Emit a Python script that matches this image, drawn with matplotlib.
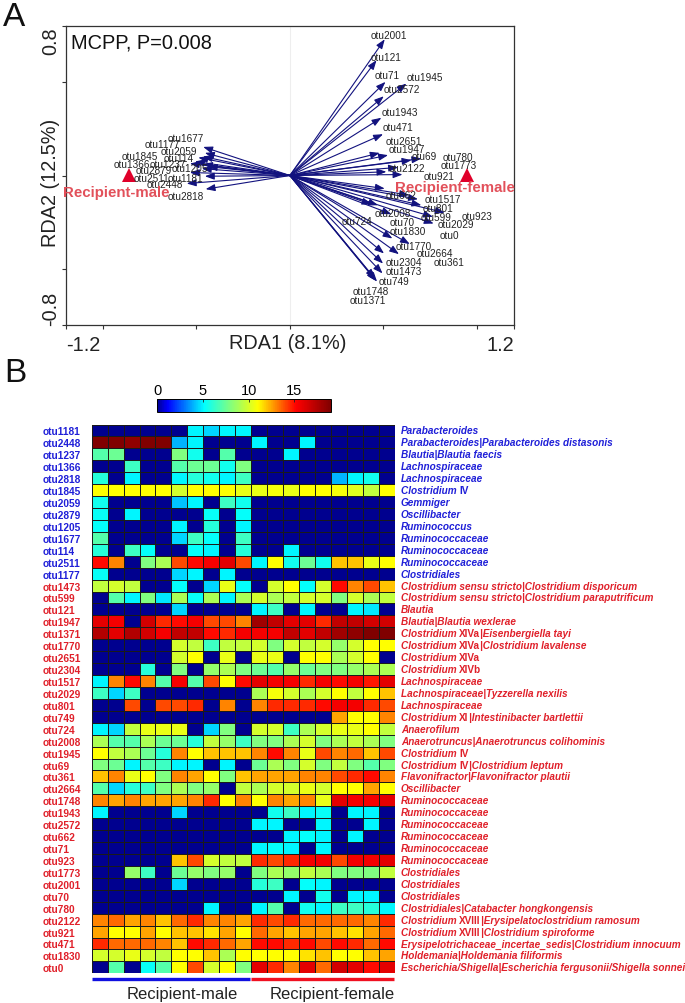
import re
import numpy as np
import matplotlib
matplotlib.use('Agg')
import matplotlib.pyplot as plt
from matplotlib.colors import LinearSegmentedColormap

plt.rcParams['font.family'] = ['Liberation Sans', 'DejaVu Sans']

# panel A: arrow tips and label spots in RDA units
male_otus = ['otu1677', 'otu1177', 'otu2059', 'otu114', 'otu1845', 'otu1366', 'otu1237',
             'otu2879', 'otu1205', 'otu2511', 'otu1181', 'otu2448', 'otu2818']
male_rda1 = [-.464, -.455, -.490, -.465, -.535, -.465, -.508, -.439, -.471, -.535, -.455, -.552, -.451]
male_rda2 = [.153, .121, .096, .102, .064, .060, .075, .048, .037, .016, -.004, -.043, -.073]
male_lab1 = [-.558, -.683, -.595, -.597, -.801, -.847, -.651, -.731, -.535, -.740, -.561, -.668, -.556]
male_lab2 = [.202, .166, .132, .095, .102, .060, .060, .028, .039, -.012, -.011, -.044, -.109]

female_otus = ['otu1473', 'otu599', 'otu121', 'otu1947', 'otu1371', 'otu1770', 'otu2651', 'otu2304',
               'otu1517', 'otu2029', 'otu801', 'otu749', 'otu724', 'otu2008', 'otu1945', 'otu69',
               'otu361', 'otu2664', 'otu1748', 'otu1943', 'otu2572', 'otu662', 'otu71', 'otu923',
               'otu1773', 'otu2001', 'otu70', 'otu780', 'otu2122', 'otu921', 'otu471', 'otu1830', 'otu0']
female_rda1 = [.496, .829, .464, .526, .455, .642, .481, .499, .686, .770, .704, .467, .437, .544, .624, .704,
               .504, .584, .460, .490, .503, .508, .512, .766, .517, .508, .472, .651, .579, .603, .499, .549, .638]
female_rda2 = [-.524, -.199, .617, .109, -.551, -.367, .121, -.471, -.127, -.257, -.159, -.568, -.155, -.207, .492, .091,
               -.417, -.421, -.563, .309, .424, -.070, .501, -.221, .020, .729, -.159, .082, .043, .005, .221, -.337, -.105]
female_lab1 = [.610, .784, .517, .627, .419, .663, .613, .611, .820, .888, .793, .555, .362, .549, .724, .720,
               .850, .775, .435, .587, .601, .594, .520, 1.000, .905, .531, .601, .898, .624, .798, .581, .631, .852]
female_lab2 = [-.510, -.221, .635, .143, -.667, -.376, .183, -.461, -.127, -.260, -.176, -.563, -.242, -.198, .528, .102,
               -.464, -.416, -.617, .341, .461, -.103, .536, -.218, .055, .750, -.251, .098, .041, -.002, .257, -.296, -.316]

centroid_x = [-.859, .950]
centroid_y = [.005, .005]

# panel B
taxa_blue = ['Parabacteroides', 'Parabacteroides|Parabacteroides distasonis', 'Blautia|Blautia faecis',
             'Lachnospiraceae', 'Lachnospiraceae', 'Clostridium IV', 'Gemmiger', 'Oscillibacter', 'Ruminococcus',
             'Ruminococcaceae', 'Ruminococcaceae', 'Ruminococcaceae', 'Clostridiales']
taxa_red = ['Clostridium sensu stricto|Clostridium disporicum', 'Clostridium sensu stricto|Clostridium paraputrificum',
            'Blautia', 'Blautia|Blautia wexlerae', 'Clostridium XIVa|Eisenbergiella tayi',
            'Clostridium XIVa|Clostridium lavalense', 'Clostridium XIVa', 'Clostridium XIVb', 'Lachnospiraceae',
            'Lachnospiraceae|Tyzzerella nexilis', 'Lachnospiraceae', 'Clostridium XI|Intestinibacter bartlettii',
            'Anaerofilum', 'Anaerotruncus|Anaerotruncus colihominis', 'Clostridium IV', 'Clostridium IV|Clostridium leptum',
            'Flavonifractor|Flavonifractor plautii', 'Oscillibacter', 'Ruminococcaceae', 'Ruminococcaceae', 'Ruminococcaceae',
            'Ruminococcaceae', 'Ruminococcaceae', 'Ruminococcaceae', 'Clostridiales', 'Clostridiales', 'Clostridiales',
            'Clostridiales|Catabacter hongkongensis', 'Clostridium XVIII|Erysipelatoclostridium ramosum',
            'Clostridium XVIII|Clostridium spiroforme', 'Erysipelotrichaceae_incertae_sedis|Clostridium innocuum',
            'Holdemania|Holdemania filiformis', 'Escherichia/Shigella|Escherichia fergusonii/Shigella sonnei']
otus_blue = ['otu1181', 'otu2448', 'otu1237', 'otu1366', 'otu2818', 'otu1845', 'otu2059', 'otu2879', 'otu1205',
             'otu1677', 'otu114', 'otu2511', 'otu1177']

heat = [
    [0, 0, 0, 0, 0, 0, 5, 4.5, 5, 5, 0, 0, 0, 0, 0, 0, 0, 0, 0],
    [19, 19, 18.5, 19, 19, 4, 5, 0, 0, 0, 5, 0, 0, 5, 0, 0, 0, 0, 0],
    [7, 7.5, 0, 0, 0, 8, 5.5, 0, 7, 0, 0, 0, 5, 0, 0, 0, 0, 0, 0],
    [0, 0, 6.5, 0, 0, 7, 7.5, 7.5, 5.5, 8, 0, 0, 0, 0, 0, 0, 0, 0, 0],
    [6, 0, 5, 0, 0, 5, 6, 5.5, 5, 6.5, 0, 0, 0, 0, 0, 4, 5, 5.5, 0],
    [11, 11, 11, 11, 11, 10, 11, 11, 11, 10.5, 10.5, 10.8, 10.5, 11, 11, 10.8, 10.3, 9.5, 11],
    [5.5, 0, 0, 0, 0, 4.2, 5, 0, 6.5, 5.5, 0, 0, 0, 0, 0, 0, 0, 0, 0],
    [5.3, 0, 5, 0, 0, 0, 0, 5.3, 0, 5.2, 0, 0, 0, 0, 0, 0, 0, 0, 0],
    [5.2, 0, 0, 0, 0, 5, 0, 6, 0, 5, 0, 0, 0, 0, 0, 0, 0, 0, 0],
    [7, 0, 0, 0, 0, 4.5, 6.5, 5.2, 0, 6.5, 0, 0, 0, 0, 0, 0, 0, 0, 0],
    [6, 0, 6.5, 5.2, 0, 0, 5.2, 5, 0, 6, 0, 0, 5, 0, 0, 0, 0, 0, 0],
    [15, 13, 0, 8, 9, 14, 15, 15.5, 16, 14, 5, 11, 5.5, 7.5, 5.5, 12, 12, 10.5, 11],
    [5.3, 0, 0, 0, 0, 4.5, 5, 0, 5, 0, 0, 0, 0, 0, 0, 0, 0, 0, 0],
    [9.5, 10, 9.5, 0, 0, 5.2, 0, 4.5, 10.5, 5.2, 0, 10, 11, 5.2, 10, 15, 13, 14, 12],
    [0, 7, 5, 8, 4.8, 9, 5.3, 9, 5, 9, 10, 9, 9.5, 10, 10, 8, 10, 9, 9.5],
    [0, 0, 0, 0, 0, 4.5, 0, 0, 0, 0, 5, 6.5, 0, 5, 0, 0, 5, 4.8, 0],
    [16, 15.5, 0, 16.5, 14.5, 15, 15.5, 14, 14, 13, 18, 17, 16, 16, 14.5, 17, 17, 16.5, 16.5],
    [17.5, 16, 17.5, 16.5, 15.5, 17, 17, 15, 14.5, 15.5, 15.5, 15.5, 17, 16, 17, 18, 18.5, 19, 19],
    [0, 0, 0, 0, 0, 10, 9.5, 6.5, 9.5, 9.5, 10, 8, 10, 9.5, 10, 8.5, 10, 11, 11],
    [0, 0, 0, 0, 0, 10, 11, 0, 10.5, 0, 10.5, 10.5, 0, 11, 11, 9, 10, 11, 0],
    [0, 0, 0, 6, 0, 8, 0, 8.5, 9, 8, 7.5, 7, 8.5, 7.5, 8, 8, 8.5, 9, 9],
    [5, 13, 15, 13, 7, 15.5, 7, 14, 11, 15, 16, 15.5, 15.5, 14.5, 15.5, 15, 15.5, 14.8, 16],
    [6.5, 4.5, 6.5, 0, 0, 0, 0, 0, 0, 0, 9, 10.8, 10, 9, 10, 11, 9.5, 11, 12],
    [0, 0, 14, 0, 14, 14, 14.5, 0, 13, 0, 13, 14.5, 14.5, 14.5, 15, 15.5, 15.5, 14.5, 14],
    [0, 0, 0, 0, 0, 0, 0, 0, 0, 0, 0, 0, 0, 0, 0, 12.5, 11, 11, 13],
    [5, 4.5, 9.5, 10.5, 10.5, 10.5, 0, 4.5, 8, 0, 10, 10, 6.5, 9, 10, 10.5, 10.5, 11, 9.5],
    [9, 7, 7, 9, 7.5, 7.5, 6, 9.5, 8.5, 6.5, 8, 8, 9, 10, 8, 9, 9.5, 9, 8],
    [11, 9.5, 9, 7.5, 6, 13, 11, 12, 12, 12, 13, 15, 13, 10.5, 14, 13, 13.5, 12, 14],
    [8, 7.5, 5, 7, 6.5, 5, 5, 0, 5, 0, 7.5, 9, 8, 10, 8, 9.5, 8, 7, 8],
    [12, 13, 10.5, 11, 8, 13, 12.5, 11, 8, 12, 12.5, 12.5, 12.5, 13, 13, 14, 14.5, 15, 13],
    [7, 4.5, 6, 6.5, 8, 9, 8, 8.5, 0, 9.5, 9, 10, 10, 10.5, 10, 11, 11, 12.5, 11],
    [13, 12.5, 13, 12.5, 12.5, 12.5, 13, 14.5, 11, 13, 11, 13, 12.5, 13, 10.5, 16, 15.5, 15.5, 16],
    [5, 0, 0, 0, 0, 4.5, 0, 0, 0, 0, 0, 5.5, 6.5, 5, 5.3, 0, 5, 5, 0],
    [0, 0, 0, 0, 0, 0, 0, 0, 0, 0, 5, 5, 0, 0, 5, 0, 0, 5, 0],
    [0, 0, 0, 0, 0, 0, 0, 0, 0, 0, 0, 0, 5, 5.2, 5, 0, 5, 0, 0],
    [0, 0, 0, 0, 0, 0, 0, 0, 0, 0, 5, 5.2, 5, 0, 5, 0, 0, 0, 0],
    [0, 0, 0, 0, 0, 12, 14, 10, 9.5, 9.5, 14.5, 14, 14.5, 15.5, 15.5, 14, 15.5, 15.5, 16],
    [0, 0, 8.5, 6.5, 0, 7.5, 8.5, 8, 8.5, 0, 8, 9, 8.5, 9.5, 9, 8, 8, 8, 9.5],
    [0, 0, 0, 0, 0, 4.5, 0, 0, 0, 0, 6, 6.5, 0, 5.2, 5, 0, 0, 0, 0],
    [0, 0, 0, 0, 0, 0, 0, 0, 0, 0, 0, 0, 5, 0, 5.5, 0, 5, 5, 0],
    [0, 0, 0, 0, 0, 0, 0, 5, 0, 0, 5, 7, 0, 5.5, 5, 6.5, 6.5, 6, 5],
    [13, 13.5, 12.5, 13, 12, 13.5, 14.5, 13, 13, 12.5, 14.5, 14, 14.5, 13.5, 13.5, 13.5, 13.5, 13, 14.5],
    [12.5, 11, 11, 12.5, 11, 12, 12, 11.5, 12.5, 11, 13.5, 12.5, 12, 12.5, 12.5, 12, 11.5, 12.5, 13.5],
    [14.5, 13.5, 13.5, 13.5, 13, 12, 15, 14.5, 13.5, 12.5, 15, 15, 14.5, 15, 14, 15, 14.5, 13.5, 15],
    [10, 10, 10.5, 10, 9.5, 11, 11, 12, 9, 11, 11, 11, 11, 11.5, 12, 11, 11, 12, 12.5],
    [0, 7, 0, 5.3, 7, 11, 14, 10, 11, 8, 16, 14.5, 13, 16, 13.5, 16.5, 16, 15, 16],
]

W, H = 685, 1004
fig = plt.figure(figsize=(W / 100, H / 100), dpi=100)


def box(left, top, right, bottom):
    return [left / W, 1 - bottom / H, (right - left) / W, (bottom - top) / H]


fig.text(3 / W, 1 - 26 / H, 'A', fontsize=24, color='#111111')
fig.text(4 / W, 1 - 382 / H, 'B', fontsize=24, color='#111111')

# ---- panel A
ax = fig.add_axes(box(65.7, 27, 514, 326))
ax.set_xlim(-1.2, 1.2)
ax.set_ylim(-0.8, 0.8)
ax.axvline(0, color='#eeeeee', lw=0.8, zorder=0)

for xs, ys in [(male_rda1, male_rda2), (female_rda1, female_rda2)]:
    for x, y in zip(xs, ys):
        ax.annotate('', xy=(x, y), xytext=(0, 0),
                    arrowprops=dict(arrowstyle='-|>,head_length=0.7,head_width=0.26', color='#12127e',
                                    lw=0.8, shrinkA=0, shrinkB=0, mutation_scale=8))

for names, xs, ys in [(male_otus, male_lab1, male_lab2), (female_otus, female_lab1, female_lab2)]:
    for name, x, y in zip(names, xs, ys):
        ax.text(x, y, name, fontsize=7.2, color='#222222', ha='center', va='center')

ax.plot(centroid_x, centroid_y, ls='none', marker='^', ms=10, color='#e0002a', mew=0)
ax.text(-.927, -.087, 'Recipient-male', fontsize=10.8, fontweight='bold', color='#e2505a', ha='center', va='center')
ax.text(.886, -.060, 'Recipient-female', fontsize=10.8, fontweight='bold', color='#e2505a', ha='center', va='center')
ax.text(0.012, 0.945, 'MCPP, P=0.008', transform=ax.transAxes, fontsize=14.4, color='#111111', va='center')

ax.set_xticks([-1.2, -1, -.5, 0, .5, 1, 1.2])
ax.set_xticklabels(['-1.2', '', '', '', '', '', '1.2'], fontsize=14.3, color='#222222')
ax.set_yticks([-.8, -.5, 0, .5, .8])
ax.set_yticklabels(['-0.8', '', '', '', '0.8'], fontsize=14.3, color='#222222', rotation=90)
ax.tick_params(axis='x', length=3, width=0.8, color='#333333', pad=4)
ax.tick_params(axis='y', length=3, width=0.8, color='#333333', pad=1)
xlabs = ax.get_xticklabels()
xlabs[0].set_ha('left')
xlabs[-1].set_ha('right')
ylabs = ax.get_yticklabels()
ylabs[0].set_va('bottom')
ylabs[-1].set_va('top')
ax.set_xlabel('RDA1 (8.1%)', fontsize=14.3, color='#222222', va='center')
ax.xaxis.set_label_coords(0.496, -0.057)
ax.set_ylabel('RDA2 (12.5%)', fontsize=14.3, color='#222222', va='center')
ax.yaxis.set_label_coords(-0.035, 0.478)
for s in ax.spines.values():
    s.set_linewidth(0.9)
    s.set_color('#333333')

# ---- panel B
cmap = LinearSegmentedColormap.from_list('heat_jet', [
    (0, '#00008f'), (.06, '#0000ff'), (.27, '#00ffff'), (.42, '#80ff80'),
    (.58, '#ffff00'), (.8, '#ff0000'), (1, '#800000')])

ax2 = fig.add_axes(box(91.7, 425.5, 394.7, 974.3))
mat = np.array(heat)
mesh = ax2.pcolormesh(mat, cmap=cmap, vmin=0, vmax=19, edgecolors='#1a1a1a', linewidth=0.7)
ax2.set_xticks([])
for s in ax2.spines.values():
    s.set_visible(False)

otu_labels = otus_blue + female_otus
ax2.set_yticks(np.arange(len(otu_labels)) + .5)
ax2.set_yticklabels(otu_labels, fontsize=7.3, fontweight='bold', ha='left')
ax2.tick_params(axis='y', length=0, pad=35)
for i, lab in enumerate(ax2.get_yticklabels()):
    lab.set_color('#1f1fd8' if i < len(otus_blue) else '#e0202a')


def taxon_label(row, label, color):
    # roman numerals stay upright, the rest is italic
    parts = [p for p in re.split(r'(\b[XVI]+[ab]?\b)', label) if p]
    prev = None
    for p in parts:
        style = 'normal' if re.fullmatch(r'[XVI]+[ab]?', p) else 'italic'
        if prev is None:
            prev = ax2.annotate(p, xy=(401, 0), xycoords=('figure pixels', 'data'), xytext=(0, row + .5),
                                textcoords=('offset points', 'data'), fontsize=7.2, fontweight='bold',
                                style=style, color=color, va='center', ha='left', annotation_clip=False)
        else:
            prev = ax2.annotate(p, xy=(1, .5), xycoords=prev, xytext=(0, 0), textcoords='offset points',
                                fontsize=7.2, fontweight='bold', style=style, color=color,
                                va='center', ha='left', annotation_clip=False)


for i, t in enumerate(taxa_blue):
    taxon_label(i, t, '#1f1fd8')
for i, t in enumerate(taxa_red):
    taxon_label(i + len(taxa_blue), t, '#e0202a')

ax2.plot([0.02, 9.9], [46.45, 46.45], color='#1010e0', lw=2.4, clip_on=False, solid_capstyle='butt')
ax2.plot([10.02, 18.98], [46.45, 46.45], color='#f01020', lw=2.4, clip_on=False, solid_capstyle='butt')
ax2.text(5.7, 47.7, 'Recipient-male', fontsize=12, color='#222222', ha='center', va='center')
ax2.text(15.05, 47.7, 'Recipient-female', fontsize=12, color='#222222', ha='center', va='center')
ax2.set_xlim(0, mat.shape[1])
ax2.set_ylim(mat.shape[0], 0)

cax = fig.add_axes(box(157, 400, 331, 413))
cb = fig.colorbar(mesh, cax=cax, orientation='horizontal')
cb.set_ticks([0, 5, 10, 15])
cax.xaxis.set_ticks_position('top')
cax.tick_params(axis='x', direction='in', length=2.5, width=0.6, labelsize=10.5, pad=1.5, color='#222222')
cb.outline.set_linewidth(0.7)

fig.savefig('out.png', dpi=100)
